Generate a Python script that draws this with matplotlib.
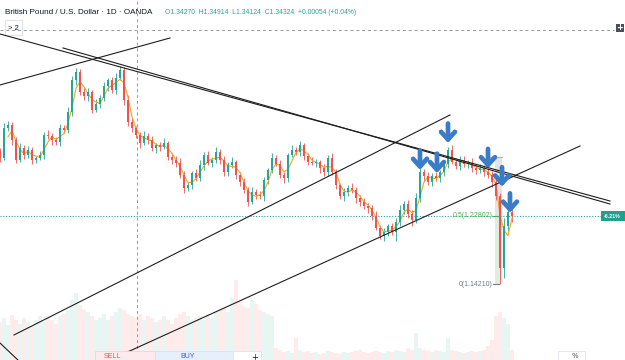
import matplotlib
matplotlib.use("Agg")
import matplotlib.pyplot as plt
from matplotlib.patches import Rectangle
import numpy as np
import pandas as pd

# ---------------- data ----------------
first_open = 1.310
closes = [
    1.301, 1.339, 1.343, 1.324, 1.299, 1.314, 1.305, 1.311,
    1.299, 1.301, 1.305, 1.330, 1.329, 1.324, 1.321, 1.339,
    1.336, 1.359, 1.399, 1.409, 1.384, 1.379, 1.384, 1.362,
    1.369, 1.377, 1.392, 1.399, 1.387, 1.402, 1.412, 1.374,
    1.346, 1.339, 1.330, 1.320, 1.329, 1.324, 1.314, 1.317,
    1.315, 1.320, 1.302, 1.299, 1.295, 1.280, 1.263, 1.267,
    1.282, 1.276, 1.292, 1.305, 1.295, 1.299, 1.309, 1.299,
    1.283, 1.292, 1.296, 1.280, 1.271, 1.261, 1.246, 1.258,
    1.254, 1.253, 1.273, 1.286, 1.301, 1.294, 1.280, 1.276,
    1.305, 1.311, 1.309, 1.317, 1.304, 1.296, 1.295, 1.296,
    1.288, 1.283, 1.301, 1.283, 1.267, 1.253, 1.258, 1.263,
    1.261, 1.251, 1.246, 1.241, 1.238, 1.228, 1.213, 1.203,
    1.208, 1.215, 1.208, 1.220, 1.236, 1.243, 1.231, 1.223,
    1.251, 1.283, 1.278, 1.271, 1.278, 1.276, 1.283, 1.294,
    1.311, 1.296, 1.291, 1.299, 1.294, 1.295, 1.288, 1.286,
    1.288, 1.283, 1.280, 1.271, 1.253, 1.162, 1.215, 1.233,
    1.228,
]
wick_up = [
    .004, .006, .005, .003, .004, .006, .003, .005, .004, .003,
    .005, .004, .006, .003, .004, .005, .004, .006, .005, .005,
    .004, .006, .005, .003, .006, .004, .005, .003, .004, .006,
    .005, .004, .006, .005, .003, .004, .006, .004, .005, .003,
    .004, .006, .003, .005, .004, .006, .005, .004, .003, .005,
    .006, .004, .005, .003, .006, .004, .005, .004, .006, .003,
    .004, .005, .003, .006, .004, .005, .004, .003, .006, .004,
    .005, .004, .003, .006, .004, .005, .003, .004, .006, .004,
    .003, .005, .004, .006, .004, .003, .005, .004, .006, .003,
    .004, .005, .003, .004, .006, .004, .005, .003, .004, .005,
    .006, .004, .005, .004, .006, .005, .004, .006, .004, .005,
    .003, .005, .004, .006, .005, .004, .005, .003, .006, .004,
    .005, .004, .006, .005, .008, .004, .010, .007, .005,
]
wick_dn = [
    .005, .003, .004, .006, .004, .003, .005, .004, .006, .004,
    .003, .005, .004, .006, .004, .005, .003, .004, .005, .006,
    .004, .005, .006, .004, .003, .005, .004, .006, .004, .005,
    .003, .006, .004, .005, .004, .006, .003, .005, .004, .006,
    .005, .003, .004, .006, .005, .004, .006, .003, .005, .004,
    .004, .006, .003, .005, .004, .006, .004, .005, .003, .006,
    .005, .004, .006, .003, .005, .004, .006, .005, .004, .003,
    .004, .006, .005, .003, .004, .006, .005, .004, .003, .005,
    .006, .004, .005, .003, .005, .004, .006, .005, .004, .006,
    .005, .004, .006, .005, .003, .004, .006, .005, .004, .012,
    .004, .006, .005, .008, .004, .005, .006, .004, .005, .004,
    .005, .004, .006, .003, .004, .005, .004, .006, .004, .005,
    .004, .005, .004, .006, .005, .020, .012, .006, .008,
]
volumes = [
    38, 42, 35, 45, 40, 36, 42, 38, 34, 40,
    44, 38, 42, 40, 36, 44, 46, 50, 60, 67,
    55, 50, 48, 44, 40, 42, 46, 40, 44, 48,
    52, 50, 46, 44, 42, 46, 40, 44, 42, 38,
    40, 44, 40, 36, 42, 46, 48, 44, 40, 42,
    44, 40, 46, 42, 48, 50, 52, 48, 62, 80,
    58, 54, 52, 60, 56, 50, 48, 46, 44, 12,
    10, 8, 9, 7, 22, 10, 8, 9, 7, 8,
    6, 7, 9, 8, 7, 6, 8, 7, 8, 9,
    10, 8, 7, 8, 9, 8, 7, 9, 8, 10,
    9, 8, 12, 10, 27, 12, 10, 9, 8, 10,
    9, 8, 22, 10, 9, 8, 7, 8, 9, 8,
    9, 10, 14, 20, 44, 48, 42, 36, 10,
]
# drawings: (bar index, price) endpoints
trendlines = [
    ((0.0, 1.4573), (152.5, 1.2469)),
    ((15.75, 1.4397), (152.5, 1.2431)),
    ((0.0, 1.3931), (42.5, 1.4523)),
    ((3.5, 1.0781), (112.5, 1.3553)),
    ((30.25, 1.0529), (145.0, 1.3162)),
    ((0.0, 1.0680), (5.0, 1.0440)),
]
arrow_points = [(105.0, 1.286), (109.25, 1.282), (112.0, 1.320),
                (122.0, 1.288), (125.5, 1.265), (127.5, 1.232)]
fib_levels = {"0.5": 1.22802, "0": 1.14210}
fib_top = 1.302
last_price = 1.228
pct_label = "-6.21%"
crosshair = (34.25, 1.4624)
header_title = "British Pound / U.S. Dollar · 1D · OANDA"
header_ohlc = "O1.34270  H1.34914  L1.34124  C1.34324  +0.00054 (+0.04%)"

# ---------------- figure ----------------
W, H = 625, 360
fig = plt.figure(figsize=(W / 100, H / 100), dpi=100)
fig.patch.set_facecolor("white")
ax = fig.add_axes([0, 0, 1, 1])
ax2 = ax.twinx()
ax.set_zorder(2)
ax.patch.set_visible(False)
ax2.set_zorder(1)

UP, DN = "#26a69a", "#ef5350"
n = len(closes)
idx = np.arange(n)
closes_a = np.array(closes)
opens_a = np.concatenate([[first_open], closes_a[:-1]])
highs = np.maximum(opens_a, closes_a) + np.array(wick_up)
lows = np.minimum(opens_a, closes_a) - np.array(wick_dn)
up = closes_a >= opens_a
cols = np.where(up, UP, DN)

# volume
ax2.bar(idx, volumes, width=0.8, color=cols, alpha=0.11, linewidth=0)
ax2.set_ylim(0, H)

# candles
ax.vlines(idx, lows, highs, colors=cols, linewidth=0.6, zorder=3)
body_h = np.abs(closes_a - opens_a)
body_h = np.maximum(body_h, 0.0008)
ax.bar(idx, body_h, bottom=np.minimum(opens_a, closes_a), width=0.6,
       color=cols, linewidth=0, zorder=4)

# moving average
ma = pd.Series(closes_a).rolling(3).mean()
ax.plot(idx, ma, color="#f7a21b", lw=0.8, zorder=3.5)

# fib band
fx0, fx1 = 123.75, 125.5
ax.add_patch(Rectangle((fx0, fib_levels["0"]), fx1 - fx0,
                       fib_levels["0.5"] - fib_levels["0"],
                       facecolor="#cfe8d0", alpha=0.7, lw=0, zorder=2))
ax.add_patch(Rectangle((fx0, fib_levels["0.5"]), fx1 - fx0,
                       fib_top - fib_levels["0.5"],
                       facecolor="#d9d9dc", alpha=0.7, lw=0, zorder=2))
ax.plot([122.6, fx1], [fib_top, fib_top], color="#b0b3ba", lw=0.8, zorder=2)
ax.plot([123.3, 124.8], [fib_levels["0.5"]] * 2, color="#4caf50", lw=0.8, zorder=5)
ax.plot([123.3, 124.8], [fib_levels["0"]] * 2, color="#787b86", lw=0.8, zorder=5)
ax.text(123.1, fib_levels["0.5"], f"0.5({fib_levels['0.5']:.5f})", color="#4caf50",
        fontsize=5, ha="right", va="center", family="Liberation Sans", zorder=6)
ax.text(123.1, fib_levels["0"], f"0({fib_levels['0']:.5f})", color="#787b86",
        fontsize=5, ha="right", va="center", family="Liberation Sans", zorder=6)

# trend lines
for (x0, p0), (x1, p1) in trendlines:
    ax.plot([x0, x1], [p0, p1], color="#1e1e1e", lw=0.8, zorder=5)

# price line
ax.axhline(last_price, color=UP, lw=0.8, ls=(0, (1, 1.5)), zorder=2)

# crosshair
ax.axvline(crosshair[0], color="#9598a1", lw=0.7, ls=(0, (3, 3)), zorder=1)
ax.plot([0, 153.5], [crosshair[1]] * 2, color="#9598a1", lw=0.7, ls=(0, (3, 3)), zorder=1)

# arrows
for xa, pa in arrow_points:
    ax.annotate("", xy=(xa, pa), xytext=(0, 14), textcoords="offset points",
                arrowprops=dict(arrowstyle="->,head_length=0.55,head_width=0.5",
                                color="#3a7cc6", lw=3.4, shrinkA=0, shrinkB=0),
                zorder=7)

ax.set_xlim(0, W / 4)
ax.set_ylim(1.04656, 1.50016)
for a in (ax, ax2):
    a.axis("off")

# ---------------- chrome (pixel placed) ----------------
def fx(px):
    return px / W

def fy(py):
    return 1 - py / H

fig.text(fx(5), fy(12), header_title, fontsize=5.9, color="#131722",
         va="center", ha="left", family="Liberation Sans")
fig.text(fx(165), fy(12), header_ohlc, fontsize=4.9, color=UP,
         va="center", ha="left", family="Liberation Sans")
fig.patches.append(Rectangle((fx(5), fy(35)), fx(17), 15 / H, transform=fig.transFigure,
                             facecolor="white", edgecolor="#e0e3eb", lw=0.8))
fig.text(fx(13.5), fy(28), "> 2", fontsize=5.5, color="#131722", ha="center",
         va="center", family="Liberation Sans")
fig.patches.append(Rectangle((fx(616), fy(32)), fx(8), 8 / H, transform=fig.transFigure,
                             facecolor="#4a4e59", edgecolor="none"))
fig.text(fx(620), fy(28), "+", fontsize=6, color="white", ha="center", va="center",
         weight="bold")

# price percentage label
fig.patches.append(Rectangle((fx(601), fy(221)), fx(24), 10 / H, transform=fig.transFigure,
                             facecolor="#22a08d", edgecolor="none", zorder=8))
fig.text(fx(612.5), fy(216), pct_label, fontsize=3.8, color="white", ha="center",
         va="center", weight="bold", family="Liberation Sans", zorder=9)

# bottom trade buttons
fig.patches.append(Rectangle((fx(95), 0), fx(60), 9 / H, transform=fig.transFigure,
                             facecolor="#fdeaec", edgecolor="#eed4d7", lw=0.6, zorder=8))
fig.patches.append(Rectangle((fx(155), 0), fx(78), 9 / H, transform=fig.transFigure,
                             facecolor="#e6f0fd", edgecolor="#d3e2f5", lw=0.6, zorder=8))
fig.patches.append(Rectangle((fx(233), 0), fx(28), 9 / H, transform=fig.transFigure,
                             facecolor="white", edgecolor="#e0e3eb", lw=0.6, zorder=8))
fig.text(fx(112), fy(357), "SELL", fontsize=5, color="#ef5350", ha="center",
         va="center", family="Liberation Sans", zorder=9)
fig.text(fx(188), fy(357), "BUY", fontsize=5, color="#2962ff", ha="center",
         va="center", family="Liberation Sans", zorder=9)
fig.text(fx(255), fy(357), "+", fontsize=6, color="#131722", ha="center",
         va="center", zorder=9)
fig.patches.append(Rectangle((fx(558), 0), fx(27), 9 / H, transform=fig.transFigure,
                             facecolor="white", edgecolor="#e0e3eb", lw=0.6, zorder=8))
fig.text(fx(575), fy(356), "%", fontsize=5, color="#555", ha="center",
         va="center", zorder=9)

fig.savefig("out.png", dpi=100, facecolor="white")
